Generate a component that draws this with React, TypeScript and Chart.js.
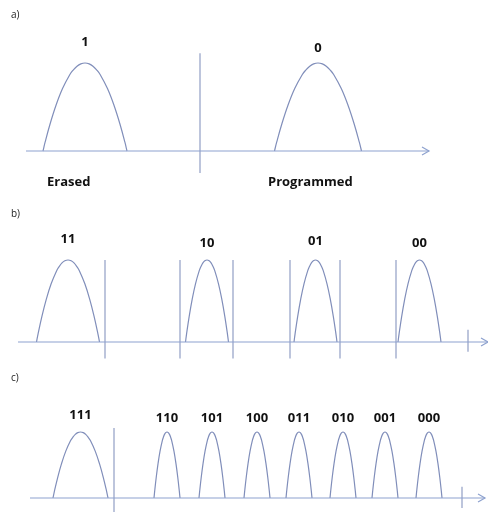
import React, { useEffect, useRef } from "react";
import { Chart, registerables } from "chart.js";

Chart.register(...registerables);

// ---------- data (threshold-voltage axis in arbitrary units) ----------
// a) single-level cell
const slcStates = ["1", "0"];
const slcCenters = [85, 318];
const slcHalfWidths = [42, 43.5];
const slcLabelLevels = [1.19, 1.13];
const slcBoundaries = [200];
const slcTicks: number[] = [];
const slcAxisRange = [26, 429];
const slcNotes = ["Erased", "Programmed"];
const slcNoteX = [47, 268];

// b) multi-level cell
const mlcStates = ["11", "10", "01", "00"];
const mlcCenters = [68, 207, 315.5, 419.5];
const mlcHalfWidths = [31.5, 21.5, 21.5, 21.5];
const mlcLabelLevels = [1.21, 1.16, 1.18, 1.16];
const mlcBoundaries = [105, 180, 233, 290, 340, 396];
const mlcTicks = [468];
const mlcAxisRange = [18, 488];

// c) triple-level cell
const tlcStates = ["111", "110", "101", "100", "011", "010", "001", "000"];
const tlcCenters = [80.5, 167, 212, 257, 299, 343, 385, 429];
const tlcHalfWidths = [27.5, 13, 13, 13, 13, 13, 13, 13];
const tlcLabelLevels = [1.2, 1.15, 1.15, 1.15, 1.15, 1.15, 1.15, 1.15];
const tlcBoundaries = [114];
const tlcTicks = [462];
const tlcAxisRange = [30, 485];

// distribution profile (relative offset, relative height)
const profileOffsets = [-1, -0.95, -0.83, -0.69, -0.535, -0.36, -0.28, -0.19, -0.1, 0, 0.1, 0.19, 0.28, 0.36, 0.535, 0.69, 0.83, 0.95, 1];
const profileHeights = [0, 0.1, 0.31, 0.52, 0.71, 0.87, 0.92, 0.964, 0.99, 1, 0.99, 0.964, 0.92, 0.87, 0.71, 0.52, 0.31, 0.1, 0];

// ---------- styles / layout ----------
const CURVE = "rgb(128,142,186)";
const AXIS = "rgb(142,162,207)";
const VLINE = "rgb(136,150,192)";
const FONT = "'Open Sans', 'DejaVu Sans', sans-serif";

type Panel = {
  tag: string;
  height: number;
  baseline: number; // px from canvas top
  unit: number; // px per relative height
  states: string[];
  centers: number[];
  halfWidths: number[];
  labelLevels: number[];
  boundaries: number[];
  boundaryTop: number;
  boundaryBottom: number;
  ticks: number[];
  tickTop: number;
  tickBottom: number;
  axisRange: number[];
  notes?: string[];
  noteX?: number[];
  noteLevel?: number;
  tagBaseline: number;
};

const panels: Panel[] = [
  {
    tag: "a)", height: 195, baseline: 151, unit: 88,
    states: slcStates, centers: slcCenters, halfWidths: slcHalfWidths, labelLevels: slcLabelLevels,
    boundaries: slcBoundaries, boundaryTop: 1.11, boundaryBottom: -0.25,
    ticks: slcTicks, tickTop: 0.15, tickBottom: -0.12,
    axisRange: slcAxisRange,
    notes: slcNotes, noteX: slcNoteX, noteLevel: -0.4, tagBaseline: 18,
  },
  {
    tag: "b)", height: 165, baseline: 147, unit: 82,
    states: mlcStates, centers: mlcCenters, halfWidths: mlcHalfWidths, labelLevels: mlcLabelLevels,
    boundaries: mlcBoundaries, boundaryTop: 1.0, boundaryBottom: -0.2,
    ticks: mlcTicks, tickTop: 0.15, tickBottom: -0.12,
    axisRange: mlcAxisRange, tagBaseline: 22,
  },
  {
    tag: "c)", height: 152, baseline: 138, unit: 66,
    states: tlcStates, centers: tlcCenters, halfWidths: tlcHalfWidths, labelLevels: tlcLabelLevels,
    boundaries: tlcBoundaries, boundaryTop: 1.06, boundaryBottom: -0.22,
    ticks: tlcTicks, tickTop: 0.17, tickBottom: -0.15,
    axisRange: tlcAxisRange, tagBaseline: 21,
  },
];

const WIDTH = 488;

function buildDatasets(p: Panel) {
  const ds: any[] = [];
  // axis
  ds.push({
    data: [{ x: p.axisRange[0], y: 0 }, { x: p.axisRange[1], y: 0 }],
    borderColor: AXIS, borderWidth: 1.2,
  });
  // boundaries
  p.boundaries.forEach((b) => {
    ds.push({
      data: [{ x: b, y: p.boundaryTop }, { x: b, y: p.boundaryBottom }],
      borderColor: VLINE, borderWidth: 1.1,
    });
  });
  p.ticks.forEach((t) => {
    ds.push({
      data: [{ x: t, y: p.tickTop }, { x: t, y: p.tickBottom }],
      borderColor: VLINE, borderWidth: 1.1,
    });
  });
  // distributions
  p.centers.forEach((c, i) => {
    const hw = p.halfWidths[i];
    ds.push({
      data: profileOffsets.map((o, k) => ({ x: c + o * hw, y: profileHeights[k] })),
      borderColor: CURVE, borderWidth: 1.2,
      tension: 0.4,
    });
  });
  return ds.map((d) => ({ tension: 0, ...d, showLine: true, pointRadius: 0, fill: false, clip: false }));
}

const annotate = (p: Panel) => ({
  id: "annotate_" + p.tag,
  afterDatasetsDraw(chart: any) {
    const ctx = chart.ctx;
    const xs = chart.scales.x;
    const ys = chart.scales.y;
    ctx.save();
    // arrow head
    const tipX = xs.getPixelForValue(p.axisRange[1]);
    const y0 = ys.getPixelForValue(0);
    ctx.strokeStyle = AXIS;
    ctx.lineWidth = 1.2;
    ctx.beginPath();
    ctx.moveTo(tipX - 7, y0 - 4);
    ctx.lineTo(tipX, y0);
    ctx.lineTo(tipX - 7, y0 + 4);
    ctx.stroke();
    // state labels
    ctx.fillStyle = "#111";
    ctx.font = `bold 13px ${FONT}`;
    ctx.textAlign = "center";
    ctx.textBaseline = "alphabetic";
    p.states.forEach((s, i) => {
      ctx.fillText(s, xs.getPixelForValue(p.centers[i]), ys.getPixelForValue(p.labelLevels[i]));
    });
    // notes
    if (p.notes && p.noteX) {
      ctx.textAlign = "left";
      p.notes.forEach((n, i) => {
        ctx.fillText(n, xs.getPixelForValue(p.noteX![i]), ys.getPixelForValue(p.noteLevel!));
      });
    }
    // panel tag
    ctx.font = `10px ${FONT}`;
    ctx.fillStyle = "#222";
    ctx.textAlign = "left";
    ctx.fillText(p.tag, 11, p.tagBaseline);
    ctx.restore();
  },
});

function PanelChart({ p }: { p: Panel }) {
  const ref = useRef<HTMLCanvasElement>(null);
  useEffect(() => {
    if (!ref.current) return;
    const chart = new Chart(ref.current, {
      type: "scatter",
      data: { datasets: buildDatasets(p) },
      options: {
        responsive: false,
        animation: false,
        devicePixelRatio: 1,
        layout: { padding: 0 },
        plugins: { legend: { display: false }, tooltip: { enabled: false }, title: { display: false } },
        scales: {
          x: { type: "linear", display: false, min: 0, max: WIDTH },
          y: { type: "linear", display: false, min: -(p.height - p.baseline) / p.unit, max: p.baseline / p.unit },
        },
      },
      plugins: [annotate(p)],
    } as any);
    return () => chart.destroy();
  }, [p]);
  return <canvas ref={ref} width={WIDTH} height={p.height} style={{ display: "block" }} />;
}

export default function App() {
  return (
    <div style={{ position: "absolute", left: 0, top: 0, width: WIDTH, height: 512, background: "#fff", overflow: "hidden" }}>
      {panels.map((p) => (
        <PanelChart key={p.tag} p={p} />
      ))}
    </div>
  );
}
